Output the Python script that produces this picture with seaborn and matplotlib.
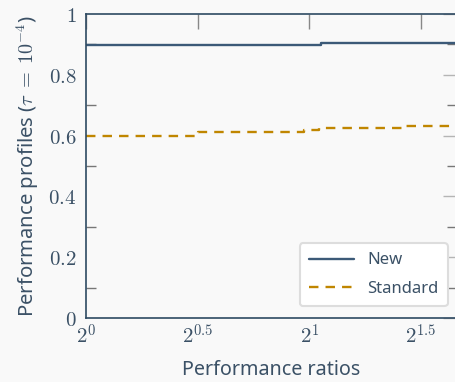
import numpy as np
import pandas as pd
import seaborn as sns
import matplotlib.pyplot as plt
from matplotlib.ticker import FixedLocator, MultipleLocator


# performance profile breakpoints (ratio, fraction solved)
new_ratios = [1.0, 2.075, 3.20]
new_values = [0.897, 0.903, 0.903]

std_ratios = [1.0, 1.414, 1.97, 2.06, 2.68, 3.20]
std_values = [0.600, 0.612, 0.618, 0.625, 0.632, 0.632]

x_tick_exps = [0, 0.5, 1, 1.5]
y_ticks = [0, 0.2, 0.4, 0.6, 0.8, 1]
y_tick_labels = ["0", "0.2", "0.4", "0.6", "0.8", "1"]

bg = "#f9f9f9"
text_col = "#3b5166"
new_col = "#3c5a78"
std_col = "#c08600"

sns.set_theme(style="white")
plt.rcParams["font.family"] = ["Noto Sans", "DejaVu Sans"]
plt.rcParams["mathtext.fontset"] = "cm"

df = pd.concat([
    pd.DataFrame({"ratio": new_ratios, "profile": new_values, "method": "New"}),
    pd.DataFrame({"ratio": std_ratios, "profile": std_values, "method": "Standard"}),
])

fig = plt.figure(figsize=(4.56, 3.82), dpi=100, facecolor=bg)
ax = fig.add_axes([0.1886, 0.1675, 0.813, 0.7959])
ax.set_facecolor(bg)

sns.lineplot(data=df, x="ratio", y="profile", hue="method", style="method",
             palette={"New": new_col, "Standard": std_col},
             dashes={"New": "", "Standard": (4, 3)},
             drawstyle="steps-post", linewidth=1.7, ax=ax)

ax.set_xscale("log", base=2)
ax.set_xlim(1, 2 ** 1.66)
ax.set_ylim(0, 1)

ax.xaxis.set_major_locator(FixedLocator([2 ** e for e in x_tick_exps]))
ax.set_xticklabels([r"$2^{%g}$" % e for e in x_tick_exps])
ax.xaxis.set_minor_locator(FixedLocator([]))
ax.set_yticks(y_ticks)
ax.set_yticklabels([r"$%s$" % t for t in y_tick_labels])
ax.yaxis.set_minor_locator(MultipleLocator(0.1))

ax.tick_params(axis="both", which="major", direction="in", length=10, width=1,
               color="#b5b5b5", labelsize=15, labelcolor=text_col,
               top=True, right=True)
ax.tick_params(axis="x", which="major", color="#888888", length=11, pad=5)
ax.tick_params(axis="y", which="minor", direction="in", length=7, width=1,
               color="#777777", left=True, right=True)
ax.tick_params(axis="y", which="major", pad=7)

for side in ["left", "bottom", "top", "right"]:
    ax.spines[side].set_color("#2e4a62")
    ax.spines[side].set_linewidth(1.2)

ax.set_xlabel("Performance ratios", fontsize=14.2, color=text_col, labelpad=8)
ax.set_ylabel(r"Performance profiles ($\tau\;=\;10^{-4}$)", fontsize=14.6,
              color=text_col, labelpad=5)

leg = ax.legend(loc="lower right", bbox_to_anchor=(0.998, 0.012), fontsize=12,
                frameon=True, fancybox=True, framealpha=1, handlelength=2.7,
                borderpad=0.55, labelspacing=0.75, handletextpad=0.8)
leg.get_frame().set_edgecolor("#dddddd")
leg.get_frame().set_linewidth(1.5)
for t in leg.get_texts():
    t.set_color(text_col)

fig.savefig("out.png", dpi=100, facecolor=bg)
